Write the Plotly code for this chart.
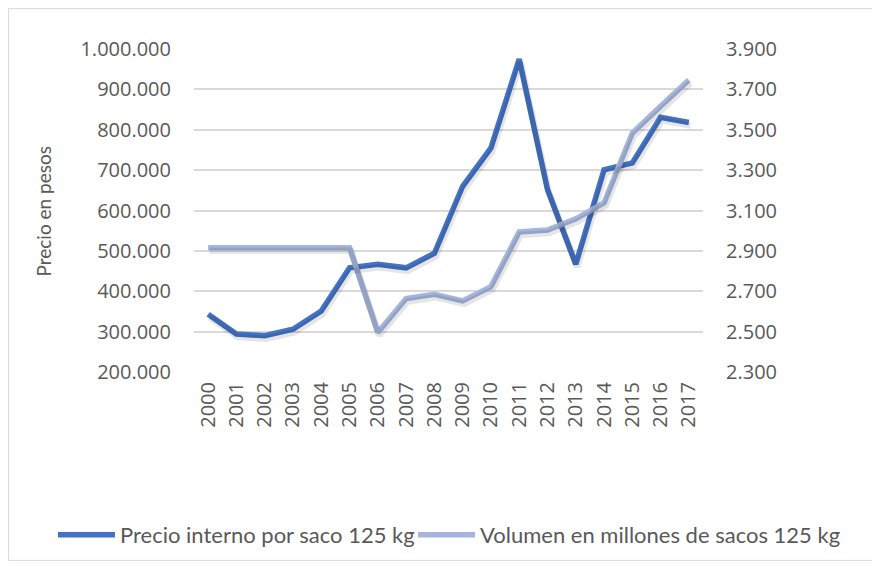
import plotly.graph_objects as go

years = [str(y) for y in range(2000, 2018)]
precio = [343000, 294000, 290000, 306000, 351000, 458000, 467000, 458000, 494000,
          660000, 755000, 975000, 652000, 467000, 701000, 718000, 831000, 818000]
volumen = [2916, 2916, 2916, 2916, 2916, 2916, 2496, 2664, 2685, 2652, 2723,
           2994, 3003, 3059, 3138, 3484, 3616, 3747]

name1 = "Precio interno por saco 125 kg"
name2 = "Volumen en millones de sacos 125 kg"

C1 = "#4472C4"
C2 = "#A5B5DD"
SH = "rgba(0,0,0,0.10)"

OFF = 8  # page body margin
W, H = 880 - OFF, 567 - OFF
L, T = 194 - OFF, 49 - OFF
pw, ph = 509, 324
R, B = W - L - pw, H - T - ph


def sx(x):
    return (x - OFF - L) / pw


def sy(y):
    return (T + ph - (y - OFF)) / ph


dy_px, dx_px = 3, 1.5
dl = dy_px * 800000 / ph
dr = dy_px * 1600 / ph
dx = dx_px * 18 / pw

fig = go.Figure()
# soft shadows
fig.add_trace(go.Scatter(x=list(range(18)), y=precio, mode="lines", xaxis="x2", yaxis="y3",
                         line=dict(color=SH, width=6.5), showlegend=False, hoverinfo="skip"))
fig.add_trace(go.Scatter(x=list(range(18)), y=volumen, mode="lines", xaxis="x2", yaxis="y4",
                         line=dict(color=SH, width=6.5), showlegend=False, hoverinfo="skip"))
# main lines
fig.add_trace(go.Scatter(x=years, y=precio, mode="lines", name=name1, legend="legend",
                         line=dict(color=C1, width=5.5)))
fig.add_trace(go.Scatter(x=years, y=volumen, mode="lines", name=name2, yaxis="y2",
                         legend="legend2", line=dict(color=C2, width=5.5)))

tickfont = dict(family="Open Sans, sans-serif", size=20, color="#595959")
legfont = dict(family="Lato, sans-serif", size=22, color="#595959")
leg_y = sy(535)

fig.update_layout(
    width=W, height=H,
    margin=dict(l=L, r=R, t=T, b=B, pad=0),
    paper_bgcolor="white", plot_bgcolor="white",
    separators=",.",
    font=dict(family="Lato, sans-serif", color="#595959"),
    xaxis=dict(type="category", tickangle=-90, tickfont=tickfont, showgrid=False,
               showline=False, ticks="", range=[-0.5, 17.5], ticklabelstandoff=5),
    xaxis2=dict(overlaying="x", range=[-0.5 - dx, 17.5 - dx], visible=False),
    yaxis=dict(range=[200000, 1000000], dtick=100000, tick0=200000, tickformat=",d",
               tickfont=tickfont, showgrid=True, gridcolor="#D9D9D9", gridwidth=1.5,
               zeroline=False, showline=False, ticks="", ticklabelstandoff=22),
    yaxis2=dict(overlaying="y", side="right", range=[2300, 3900], dtick=200, tick0=2300,
                tickformat=",d", tickfont=tickfont, showgrid=False, zeroline=False,
                showline=False, ticks="", ticklabelstandoff=22),
    yaxis3=dict(overlaying="y", range=[200000 + dl, 1000000 + dl], visible=False),
    yaxis4=dict(overlaying="y", range=[2300 + dr, 3900 + dr], visible=False),
    legend=dict(orientation="h", x=sx(53), xanchor="left", y=leg_y,
                yanchor="middle", font=legfont, itemwidth=57, bgcolor="rgba(0,0,0,0)"),
    legend2=dict(orientation="h", x=sx(413), xanchor="left", y=leg_y,
                 yanchor="middle", font=legfont, itemwidth=57, bgcolor="rgba(0,0,0,0)"),
    annotations=[dict(text="Precio en pesos", xref="paper", yref="paper",
                      x=sx(43), y=sy(212), textangle=-90,
                      showarrow=False, xanchor="center", yanchor="middle",
                      font=dict(family="Lato, sans-serif", size=19, color="#595959"))],
    shapes=[dict(type="rect", xref="paper", yref="paper",
                 x0=sx(8.5), x1=sx(878), y0=sy(562), y1=sy(8.5),
                 line=dict(color="#D9D9D9", width=1), layer="below")],
)

fig.write_html("out.html")
